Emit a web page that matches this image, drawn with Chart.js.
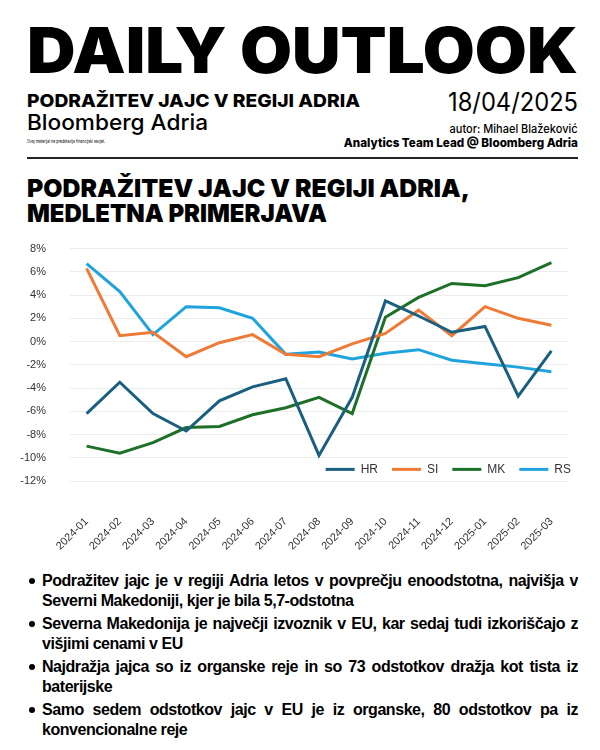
<!DOCTYPE html>
<html>
<head>
<meta charset="utf-8">
<script src="https://cdn.jsdelivr.net/npm/chart.js@4.4.1/dist/chart.umd.min.js"></script>
<style>
  html, body { margin: 0; padding: 0; background: #fff; }
  body { width: 600px; height: 750px; position: relative; overflow: hidden; color: #000; }
  .t { position: absolute; white-space: nowrap; line-height: 1; }
  .fitL { transform-origin: left top; }
  .fitR { transform-origin: right top; }
  #rule { position: absolute; left: 27px; top: 157px; width: 551px; height: 2px; background: #222; }
  #chartBox { position: absolute; left: 0; top: 218px; width: 600px; height: 342px; }
  #chartBox canvas { display: block; }
  #bullets { position: absolute; left: 0; top: 571px; width: 600px; font-family: "Liberation Sans", Arial, sans-serif; font-weight: 700; font-size: 16px; letter-spacing: -0.45px; }
  .ln { position: absolute; left: 42px; width: 536px; height: 20px; line-height: 20px; white-space: nowrap; }
  .j { text-align: justify; text-align-last: justify; white-space: normal; overflow: hidden; }
  .dot { position: absolute; left: 29px; width: 6px; height: 6px; border-radius: 50%; background: #000; }
</style>
</head>
<body>
<div class="t fitL" id="h1" style="left:27px; top:19px; font-family:Inter, sans-serif; font-weight:900; font-size:63px;" data-w="551">DAILY OUTLOOK</div>
<div class="t fitL" id="h2" style="left:27px; top:92px; font-family:Inter, sans-serif; font-weight:800; font-size:18px;" data-w="333">PODRAŽITEV JAJC V REGIJI ADRIA</div>
<div class="t fitL" id="h3" style="left:27px; top:111px; font-family:Inter, sans-serif; font-weight:500; font-size:22px;" data-w="181">Bloomberg Adria</div>
<div class="t fitL" id="h4" style="left:27px; top:139px; font-family:Inter, sans-serif; font-weight:400; font-size:5px;" data-w="78">Ovaj materijal ne predstavlja financijski savjet.</div>
<div class="t fitR" id="h5" style="right:22px; top:90px; font-family:Inter, sans-serif; font-weight:400; font-size:25px;" data-w="130">18/04/2025</div>
<div class="t fitR" id="h6" style="right:22px; top:123px; font-family:Inter, sans-serif; font-weight:500; font-size:12px;" data-w="128">autor: Mihael Blažeković</div>
<div class="t fitR" id="h7" style="right:22px; top:137px; font-family:Inter, sans-serif; font-weight:800; font-size:12px;" data-w="234">Analytics Team Lead @ Bloomberg Adria</div>
<div id="rule"></div>
<div class="t fitL" id="ti1" style="left:27px; top:176px; font-family:Inter, sans-serif; font-weight:900; font-size:25px;" data-w="443">PODRAŽITEV JAJC V REGIJI ADRIA,</div>
<div class="t fitL" id="ti2" style="left:27px; top:201px; font-family:Inter, sans-serif; font-weight:900; font-size:25px;" data-w="300">MEDLETNA PRIMERJAVA</div>

<div id="chartBox"><canvas id="c" width="600" height="342"></canvas></div>

<div id="bullets">
  <div class="dot" style="top:7px"></div>
  <div class="ln j" style="top:0px">Podražitev jajc je v regiji Adria letos v povprečju enoodstotna, najvišja v</div>
  <div class="ln" style="top:20px">Severni Makedoniji, kjer je bila 5,7-odstotna</div>
  <div class="dot" style="top:50px"></div>
  <div class="ln j" style="top:43px">Severna Makedonija je največji izvoznik v EU, kar sedaj tudi izkoriščajo z</div>
  <div class="ln" style="top:63px">višjimi cenami v EU</div>
  <div class="dot" style="top:93px"></div>
  <div class="ln j" style="top:86px">Najdražja jajca so iz organske reje in so 73 odstotkov dražja kot tista iz</div>
  <div class="ln" style="top:106px">baterijske</div>
  <div class="dot" style="top:136px"></div>
  <div class="ln j" style="top:129px">Samo sedem odstotkov jajc v EU je iz organske, 80 odstotkov pa iz</div>
  <div class="ln" style="top:149px">konvencionalne reje</div>
</div>

<script>
// ---- data ----
const months = ["2024-01","2024-02","2024-03","2024-04","2024-05","2024-06","2024-07","2024-08","2024-09","2024-10","2024-11","2024-12","2025-01","2025-02","2025-03"];
const seriesNames = ["HR","SI","MK","RS"];
const hrValues = [-6.2,-3.5,-6.2,-7.7,-5.1,-3.9,-3.2,-9.8,-4.8,3.5,2.2,0.8,1.3,-4.7,-0.8];
const siValues = [6.3,0.5,0.8,-1.3,-0.1,0.6,-1.1,-1.3,-0.2,0.7,2.7,0.5,3.0,2.0,1.4];
const mkValues = [-9.0,-9.6,-8.7,-7.4,-7.3,-6.3,-5.7,-4.8,-6.2,2.1,3.8,5.0,4.8,5.5,6.8];
const rsValues = [6.7,4.3,0.6,3.0,2.9,2.0,-1.1,-0.9,-1.5,-1.0,-0.7,-1.6,-1.9,-2.2,-2.6];
const yTickValues = [8,6,4,2,0,-2,-4,-6,-8,-10,-12];
const seriesColors = ["#1b5f80","#ee7a36","#1e7029","#1ea3dc"];

// fit header texts
document.querySelectorAll('[data-w]').forEach(el => {
  const w = el.getBoundingClientRect().width;
  const target = parseFloat(el.dataset.w);
  el.style.transform = 'scaleX(' + (target / w) + ')';
});

const allValues = [hrValues, siValues, mkValues, rsValues];

const legendPlugin = {
  id: 'inlineLegend',
  afterDatasetsDraw(chart) {
    const ctx = chart.ctx;
    const ys = chart.scales.y;
    const y = ys.getPixelForValue(-11);
    ctx.save();
    ctx.font = '12px "Liberation Sans", Arial, sans-serif';
    ctx.textBaseline = 'middle';
    const lineW = 29, gap1 = 6, gap2 = 14;
    const items = chart.data.datasets.map(d => ({ label: d.label, color: d.borderColor, tw: ctx.measureText(d.label).width }));
    let total = 0;
    items.forEach((it, i) => { total += lineW + gap1 + it.tw + (i < items.length - 1 ? gap2 : 0); });
    let x = chart.chartArea.right + 3 - total;
    items.forEach(it => {
      ctx.strokeStyle = it.color;
      ctx.lineWidth = 3;
      ctx.beginPath();
      ctx.moveTo(x, y);
      ctx.lineTo(x + lineW, y);
      ctx.stroke();
      ctx.fillStyle = '#333';
      ctx.fillText(it.label, x + lineW + gap1, y + 0.5);
      x += lineW + gap1 + it.tw + gap2;
    });
    ctx.restore();
  }
};

new Chart(document.getElementById('c'), {
  type: 'line',
  data: {
    labels: months,
    datasets: seriesNames.map((n, i) => ({
      label: n,
      data: allValues[i],
      borderColor: seriesColors[i],
      backgroundColor: seriesColors[i],
      borderWidth: 3,
      pointRadius: 0,
      tension: 0,
      fill: false
    }))
  },
  options: {
    responsive: false,
    animation: false,
    devicePixelRatio: 1,
    layout: { padding: { left: 20, right: 32, top: 6, bottom: 0 } },
    plugins: { legend: { display: false }, tooltip: { enabled: false } },
    scales: {
      x: {
        offset: true,
        grid: { display: false },
        border: { display: false },
        ticks: {
          autoSkip: false, minRotation: 45, maxRotation: 45,
          padding: 26,
          color: '#333',
          font: { family: '"Liberation Sans", Arial, sans-serif', size: 11 }
        },
        afterFit(s) { s.height = 79; }
      },
      y: {
        min: -12, max: 8,
        afterBuildTicks(s) { s.ticks = yTickValues.map(v => ({ value: v })); },
        grid: { color: '#ececec', lineWidth: 1, drawTicks: false },
        border: { display: false },
        ticks: {
          padding: 24,
          color: '#333',
          font: { family: '"Liberation Sans", Arial, sans-serif', size: 11 },
          callback: v => v + '%'
        },
        afterFit(s) { s.width = 50; }
      }
    }
  },
  plugins: [legendPlugin]
});
</script>
</body>
</html>
